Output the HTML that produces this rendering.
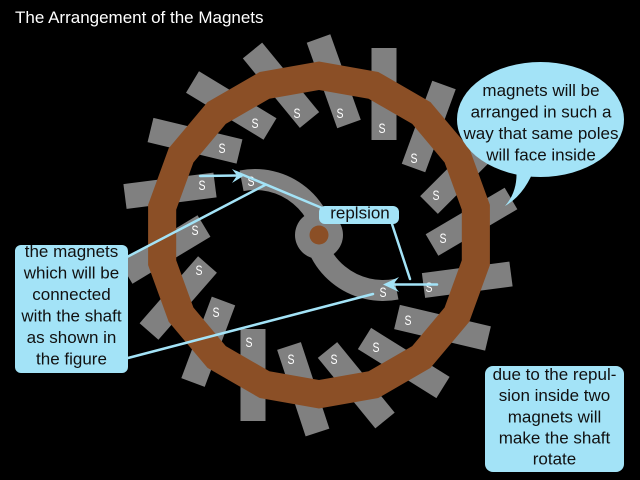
<!DOCTYPE html>
<html>
<head>
<meta charset="utf-8">
<style>
  html,body{margin:0;padding:0;background:#000;}
  svg{display:block;}
  text{font-family:"Liberation Sans", Arial, sans-serif;}
</style>
</head>
<body>
<svg width="640" height="480" viewBox="0 0 640 480" xmlns="http://www.w3.org/2000/svg">
  <rect x="0" y="0" width="640" height="480" fill="#000"/>

  <!-- title -->
  <text x="15" y="23" font-size="17" fill="#ffffff">The Arrangement of the Magnets</text>

  <!-- magnets (gray bars) -->
  <g stroke="#808080" stroke-width="25" stroke-linecap="butt">
    <line x1="384" y1="140" x2="384" y2="48"/>
    <line x1="349" y1="124" x2="318.5" y2="38.5"/>
    <line x1="309.5" y1="120" x2="252.5" y2="50.5"/>
    <line x1="270" y1="129" x2="192.5" y2="82"/>
    <line x1="239.5" y1="151.5" x2="150.5" y2="130"/>
    <line x1="215" y1="185" x2="125" y2="196.5"/>
    <line x1="204" y1="226" x2="126" y2="273"/>
    <line x1="207.5" y1="264.5" x2="149" y2="331.5"/>
    <line x1="223.5" y1="301" x2="193" y2="382.5"/>
    <line x1="253" y1="329" x2="253" y2="421"/>
    <line x1="289" y1="346" x2="317.5" y2="432.5"/>
    <line x1="327.5" y1="350" x2="385" y2="420.5"/>
    <line x1="364.5" y1="338.5" x2="443" y2="387.5"/>
    <line x1="397" y1="317" x2="488" y2="338.5"/>
    <line x1="423.5" y1="285.5" x2="511" y2="274"/>
    <line x1="432" y1="245" x2="511" y2="198.5"/>
    <line x1="429" y1="205" x2="493" y2="141"/>
    <line x1="413.5" y1="168" x2="444" y2="85"/>
  </g>

  <!-- brown ring (18-gon) -->
  <path fill="#8b4f26" fill-rule="evenodd" d="
    M319,61.5 L378.3,72 L430.5,102.1 L469.3,148.3 L489.9,204.9 L489.9,265.1 L469.3,321.8 L430.5,367.9 L378.3,398 L319,408.5 L259.7,398 L207.5,367.9 L168.7,321.8 L148.1,265.1 L148.1,204.9 L168.7,148.3 L207.5,102.1 L259.7,72 Z
    M319,90 L368.6,98.7 L412.2,123.9 L444.6,162.5 L461.8,209.8 L461.8,260.2 L444.6,307.5 L412.2,346.1 L368.6,371.3 L319,380 L269.4,371.3 L225.8,346.1 L193.4,307.5 L176.2,260.2 L176.2,209.8 L193.4,162.5 L225.8,123.9 L269.4,98.7 Z"/>

  <!-- shaft arms and hub -->
  <g fill="none" stroke="#808080" stroke-width="21" stroke-linecap="butt">
    <path d="M241.55,180.8 A70.5,70.5 0 0 1 325.5,250"/>
    <path d="M396.45,289.2 A70.5,70.5 0 0 1 312.5,220"/>
  </g>
  <circle cx="319" cy="235" r="24" fill="#808080"/>
  <circle cx="319" cy="235" r="9.5" fill="#8b4f26"/>

  <!-- S labels -->
  <g font-size="14" fill="#ffffff" text-anchor="middle">
    <text x="382" y="133" textLength="7" lengthAdjust="spacingAndGlyphs">S</text>
    <text x="340" y="118" textLength="7" lengthAdjust="spacingAndGlyphs">S</text>
    <text x="297" y="118" textLength="7" lengthAdjust="spacingAndGlyphs">S</text>
    <text x="255" y="128" textLength="7" lengthAdjust="spacingAndGlyphs">S</text>
    <text x="222" y="153" textLength="7" lengthAdjust="spacingAndGlyphs">S</text>
    <text x="202" y="190" textLength="7" lengthAdjust="spacingAndGlyphs">S</text>
    <text x="195" y="235" textLength="7" lengthAdjust="spacingAndGlyphs">S</text>
    <text x="199" y="275" textLength="7" lengthAdjust="spacingAndGlyphs">S</text>
    <text x="216" y="317" textLength="7" lengthAdjust="spacingAndGlyphs">S</text>
    <text x="249" y="347" textLength="7" lengthAdjust="spacingAndGlyphs">S</text>
    <text x="291" y="364" textLength="7" lengthAdjust="spacingAndGlyphs">S</text>
    <text x="334" y="364" textLength="7" lengthAdjust="spacingAndGlyphs">S</text>
    <text x="376" y="352" textLength="7" lengthAdjust="spacingAndGlyphs">S</text>
    <text x="408" y="325" textLength="7" lengthAdjust="spacingAndGlyphs">S</text>
    <text x="429" y="292" textLength="7" lengthAdjust="spacingAndGlyphs">S</text>
    <text x="443" y="243" textLength="7" lengthAdjust="spacingAndGlyphs">S</text>
    <text x="436" y="200" textLength="7" lengthAdjust="spacingAndGlyphs">S</text>
    <text x="414" y="163" textLength="7" lengthAdjust="spacingAndGlyphs">S</text>
    <text x="251" y="186" textLength="7" lengthAdjust="spacingAndGlyphs">S</text>
    <text x="383" y="297" textLength="7" lengthAdjust="spacingAndGlyphs">S</text>
  </g>

  <!-- connector lines -->
  <g stroke="#a3e3f7" stroke-width="2.5" fill="none" stroke-linecap="round">
    <line x1="200" y1="176" x2="238" y2="175.5"/>
    <line x1="236" y1="172" x2="322" y2="208"/>
    <line x1="392" y1="224" x2="410" y2="279"/>
    <line x1="437" y1="284.5" x2="390" y2="284.5"/>
    <line x1="127" y1="257" x2="265" y2="185"/>
    <line x1="128" y1="358" x2="373" y2="294"/>
  </g>
  <g fill="#a3e3f7">
    <polygon points="245,175 232,169 237,175.5 232,183"/>
    <polygon points="383,284.5 399,277 393,284.5 399,292"/>
  </g>

  <!-- replsion label -->
  <rect x="319" y="206" width="80" height="18" rx="6" ry="6" fill="#a3e3f7"/>
  <text x="360" y="218.5" font-size="17" fill="#111" text-anchor="middle">replsion</text>

  <!-- left box -->
  <rect x="15" y="245" width="113" height="128" rx="6" ry="6" fill="#a3e3f7"/>
  <g font-size="17" fill="#111" text-anchor="middle">
    <text x="71.5" y="257">the magnets</text>
    <text x="71.5" y="278.5">which will be</text>
    <text x="71.5" y="300">connected</text>
    <text x="71.5" y="321.5">with the shaft</text>
    <text x="71.5" y="343">as shown in</text>
    <text x="71.5" y="364.5">the figure</text>
  </g>

  <!-- speech bubble -->
  <ellipse cx="540.5" cy="119.5" rx="83.5" ry="57.5" fill="#a3e3f7"/>
  <path d="M516,166 Q519,190 505,206 Q526,194 536,164 Z" fill="#a3e3f7"/>
  <g font-size="17" fill="#111" text-anchor="middle">
    <text x="541" y="96">magnets will be</text>
    <text x="541" y="117.5">arranged in such a</text>
    <text x="541" y="139">way that same poles</text>
    <text x="541" y="160.5">will face inside</text>
  </g>

  <!-- right box -->
  <rect x="485" y="366" width="139" height="106" rx="8" ry="8" fill="#a3e3f7"/>
  <g font-size="17" fill="#111" text-anchor="middle">
    <text x="554.5" y="380">due to the repul-</text>
    <text x="554.5" y="401">sion inside two</text>
    <text x="554.5" y="422.5">magnets will</text>
    <text x="554.5" y="443.5">make the shaft</text>
    <text x="554.5" y="464.5">rotate</text>
  </g>
</svg>
</body>
</html>
